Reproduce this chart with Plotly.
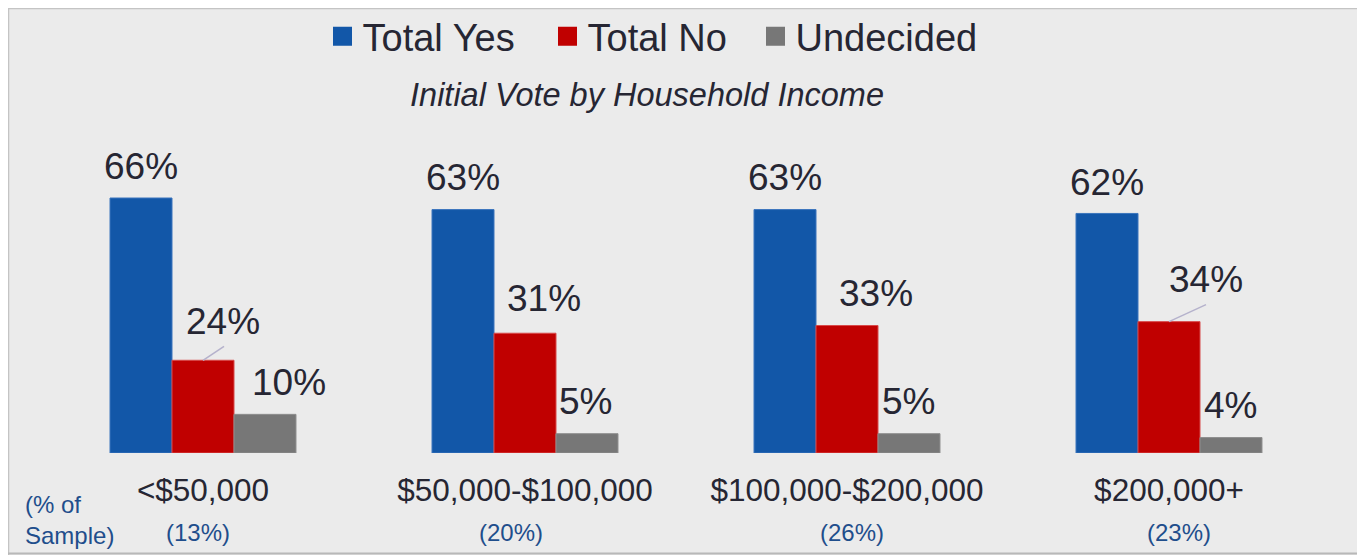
import plotly.graph_objects as go

# ---------------- data ----------------
categories = ["<$50,000", "$50,000-$100,000", "$100,000-$200,000", "$200,000+"]
sample_share = ["(13%)", "(20%)", "(26%)", "(23%)"]
total_yes = [66, 63, 63, 62]
total_no = [24, 31, 33, 34]
undecided = [10, 5, 5, 4]
series_names = ["Total Yes", "Total No", "Undecided"]
chart_title = "Initial Vote by Household Income"
sample_note = "(% of<br>Sample)"

# ---------------- layout constants ----------------
OFF = 8                      # page offset of the figure (body margin)
W, H = 1365 - OFF, 555 - OFF
ML, MR, MT, MB = 42 - OFF, 35, 90, 102
PLOT_W = W - ML - MR
PLOT_H = H - MT - MB
PX_PER_PCT = 255 / 66
Y_MAX = PLOT_H / PX_PER_PCT

FONT = "Liberation Sans, Arial, sans-serif"
TEXT = "#262633"
BLUE_TXT = "#1f4e8c"
BAR_COLORS = ["#1257a8", "#c00000", "#777777"]
EDGE_COLORS = ["#3a74bd", "#d84a4a", "#8e8e8e"]
LEADER = "#b5b2cc"

BARGAP = 0.4224
BAR_W = (1 - BARGAP) / 3
OFFSETS = [-BAR_W, 0, BAR_W]

# label placement (xshift, yshift) in px, per series, per category
LABEL_SHIFT = [
    [(0, 32), (0, 32), (0, 32), (0, 31)],
    [(20, 39), (19, 35), (29, 32), (37, 42)],
    [(24, 32), (-2, 32), (-1, 32), (-1, 32)],
]
# leader lines (series, category) -> (dx, dy up) in px from the bar top centre
LEADER_LINES = {(1, 0): (21, 14), (1, 3): (37, 17)}
SAMPLE_XSHIFT = [-5, -14, 5, 10]


def px_x(px):          # page px -> paper x
    return (px - OFF - ML) / PLOT_W


def px_y(py):          # page py -> paper y
    return (H - MB - (py - OFF)) / PLOT_H


series = [total_yes, total_no, undecided]
legend_keys = ["legend", "legend2", "legend3"]

fig = go.Figure()
for s, (name, vals) in enumerate(zip(series_names, series)):
    fig.add_trace(go.Bar(
        x=categories, y=vals, name=name, showlegend=False,
        marker=dict(color=BAR_COLORS[s], line=dict(color=EDGE_COLORS[s], width=1)),
        hoverinfo="x+y+name",
    ))
    # legend proxy (larger square marker)
    fig.add_trace(go.Scatter(
        x=[None], y=[None], mode="markers", name=name, legend=legend_keys[s],
        marker=dict(symbol="square", size=16, color=BAR_COLORS[s],
                    line=dict(color=BAR_COLORS[s], width=3)),
    ))

annotations = []
shapes = []
for s, vals in enumerate(series):
    for i, v in enumerate(vals):
        xs, ys = LABEL_SHIFT[s][i]
        annotations.append(dict(
            x=i + OFFSETS[s], y=v, xref="x", yref="y",
            text=f"{v}%", font=dict(family=FONT, size=37, color=TEXT),
            showarrow=False, xanchor="center", yanchor="middle",
            xshift=xs, yshift=ys,
        ))
        if (s, i) in LEADER_LINES:
            dx, dy = LEADER_LINES[(s, i)]
            shapes.append(dict(
                type="line", xref="x", yref="y",
                xsizemode="pixel", ysizemode="pixel",
                xanchor=i + OFFSETS[s], yanchor=v,
                x0=0, x1=dx, y0=0, y1=dy,
                line=dict(color=LEADER, width=1.5),
            ))

for i, txt in enumerate(sample_share):
    annotations.append(dict(
        x=i, y=px_y(532), xref="x", yref="paper", text=txt, showarrow=False,
        xanchor="center", yanchor="middle", xshift=SAMPLE_XSHIFT[i],
        font=dict(family=FONT, size=24, color=BLUE_TXT),
    ))

annotations.append(dict(
    x=px_x(23), y=px_y(520), xref="paper", yref="paper", text=sample_note,
    showarrow=False, xanchor="left", yanchor="middle", align="left",
    font=dict(family=FONT, size=24, color=BLUE_TXT),
))

shapes += [
    dict(type="line", xref="paper", yref="paper", x0=px_x(OFF), x1=px_x(1400),
         y0=px_y(OFF + 0.5), y1=px_y(OFF + 0.5), line=dict(color="#c4c4c4", width=1.5),
         layer="below"),
    dict(type="line", xref="paper", yref="paper", x0=px_x(OFF + 0.5), x1=px_x(OFF + 0.5),
         y0=px_y(OFF), y1=px_y(560), line=dict(color="#c4c4c4", width=1.5), layer="below"),
    dict(type="line", xref="paper", yref="paper", x0=px_x(OFF), x1=px_x(1400),
         y0=px_y(553.5), y1=px_y(553.5), line=dict(color="#b8b8b8", width=2), layer="below"),
]

legend_centers = [342.5, 567.5, 775.5]
legend_common = dict(
    xref="container", yref="container", xanchor="left", yanchor="middle",
    y=1 - (36.5 - OFF) / H, orientation="h", bgcolor="rgba(0,0,0,0)",
    font=dict(family=FONT, size=38, color=TEXT), borderwidth=0,
)

fig.update_layout(
    width=W, height=H,
    margin=dict(l=ML, r=MR, t=MT, b=MB, autoexpand=False),
    paper_bgcolor="#ebebeb", plot_bgcolor="rgba(0,0,0,0)",
    barmode="group", bargap=BARGAP, bargroupgap=0,
    font=dict(family=FONT, color=TEXT),
    title=dict(
        text=chart_title, xref="container", yref="container",
        x=(647 - OFF) / W, y=1 - (95 - OFF) / H, xanchor="center", yanchor="middle",
        font=dict(family=FONT, size=32.5, color=TEXT, style="italic"),
    ),
    legend=dict(**legend_common, x=(legend_centers[0] - 20 - OFF) / W),
    legend2=dict(**legend_common, x=(legend_centers[1] - 20 - OFF) / W),
    legend3=dict(**legend_common, x=(legend_centers[2] - 20 - OFF) / W),
    xaxis=dict(
        type="category", range=[-0.5, 3.5], showgrid=False, zeroline=False,
        showline=False, ticks="", ticklabelstandoff=15,
        tickfont=dict(family=FONT, size=31.5, color=TEXT), fixedrange=True,
    ),
    yaxis=dict(visible=False, range=[0, Y_MAX], fixedrange=True),
    annotations=annotations,
    shapes=shapes,
)

fig.write_html("out.html")
